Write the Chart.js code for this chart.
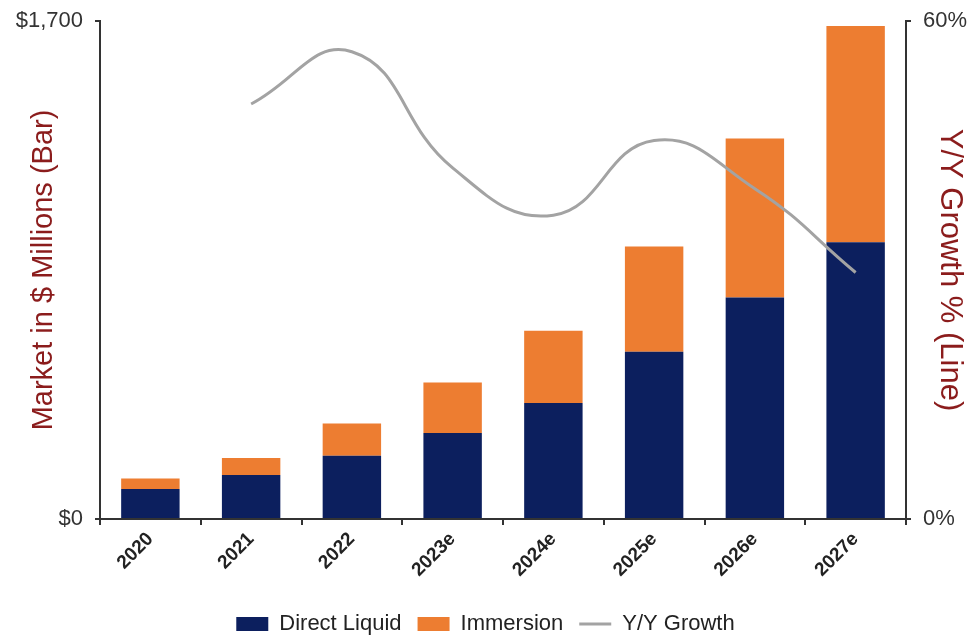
<!DOCTYPE html>
<html>
<head>
<meta charset="utf-8">
<script src="https://cdn.jsdelivr.net/npm/chart.js@4.4.1/dist/chart.umd.min.js"></script>
<style>
  html, body { margin: 0; padding: 0; background: #fff; }
  #wrap { width: 971px; height: 635px; position: relative; }
</style>
</head>
<body>
<div id="wrap"><canvas id="chart"></canvas></div>
<script>
// Liquid cooling market, $M (stacked bars) and Y/Y growth % (line)
const years = ['2020', '2021', '2022', '2023e', '2024e', '2025e', '2026e', '2027e'];
const directLiquid = [102, 150, 216, 294, 396, 571, 756, 945];
const immersion = [36, 58, 110, 172, 247, 359, 543, 738];
const yoyGrowth = [null, 50.0, 56.3, 42.3, 36.6, 45.6, 39.8, 29.7];

const FONT = "Arial, 'Liberation Sans', sans-serif";
const NAVY = '#0c1f5e';
const ORANGE = '#ed7d31';
const GREY = '#a3a3a3';
const DARK_RED = '#8b1c1c';

// fixed side widths; drop the extra top/bottom room Chart.js adds for end labels
function fixSide(width) {
  return (s) => {
    s.width = width;
    s.paddingTop = 0;
    s.paddingBottom = 0;
  };
}

new Chart(document.getElementById('chart'), {
  type: 'bar',
  data: {
    labels: years,
    datasets: [
      {
        label: 'Direct Liquid',
        data: directLiquid,
        backgroundColor: NAVY,
        yAxisID: 'y',
        stack: 'mkt',
        barPercentage: 0.58,
        categoryPercentage: 1,
        pointStyle: 'rect',
        order: 1,
      },
      {
        label: 'Immersion',
        data: immersion,
        backgroundColor: ORANGE,
        yAxisID: 'y',
        stack: 'mkt',
        barPercentage: 0.58,
        categoryPercentage: 1,
        pointStyle: 'rect',
        order: 1,
      },
      {
        type: 'line',
        label: 'Y/Y Growth',
        data: yoyGrowth,
        borderColor: GREY,
        backgroundColor: GREY,
        borderWidth: 3,
        tension: 0.45,
        pointRadius: 0,
        pointStyle: 'line',
        yAxisID: 'y1',
        order: 0,
      },
    ],
  },
  options: {
    responsive: true,
    maintainAspectRatio: false,
    animation: false,
    layout: { padding: { top: 21, left: 0, right: 0, bottom: -10 } },
    plugins: {
      tooltip: { enabled: false },
      legend: {
        position: 'bottom',
        labels: {
          usePointStyle: true,
          pointStyleWidth: 32,
          boxHeight: 14,
          padding: 16,
          color: '#222',
          font: { family: FONT, size: 22 },
          sort: (a, b) => a.datasetIndex - b.datasetIndex,
        },
      },
    },
    scales: {
      x: {
        stacked: true,
        grid: { drawOnChartArea: false, drawTicks: true, tickLength: 6, color: '#333', lineWidth: 2 },
        border: { display: true, color: '#333', width: 2 },
        ticks: {
          color: '#222',
          maxRotation: 45,
          minRotation: 45,
          font: { family: FONT, size: 19, weight: 'bold' },
        },
        afterFit: (s) => { s.height = 78; },
      },
      y: {
        stacked: true,
        position: 'left',
        min: 0,
        max: 1700,
        grid: { drawOnChartArea: false, drawTicks: true, tickLength: 5, color: '#333', lineWidth: 2 },
        border: { display: true, color: '#333', width: 2 },
        ticks: {
          stepSize: 1700,
          color: '#333',
          padding: 12,
          font: { family: FONT, size: 22 },
          callback: (v) => '$' + v.toLocaleString('en-US'),
        },
        title: {
          display: true,
          text: 'Market in $ Millions (Bar)',
          color: DARK_RED,
          font: { family: FONT, size: 29 },
          padding: { top: 27, bottom: 0 },
        },
        afterFit: fixSide(100),
      },
      y1: {
        position: 'right',
        min: 0,
        max: 60,
        grid: { drawOnChartArea: false, drawTicks: true, tickLength: 5, color: '#333', lineWidth: 2 },
        border: { display: true, color: '#333', width: 2 },
        ticks: {
          stepSize: 60,
          color: '#333',
          padding: 12,
          font: { family: FONT, size: 22 },
          callback: (v) => v + '%',
        },
        title: {
          display: true,
          text: 'Y/Y Growth % (Line)',
          color: DARK_RED,
          font: { family: FONT, size: 31 },
          padding: { top: 3, bottom: 0 },
        },
        afterFit: fixSide(65),
      },
    },
  },
});
</script>
</body>
</html>
